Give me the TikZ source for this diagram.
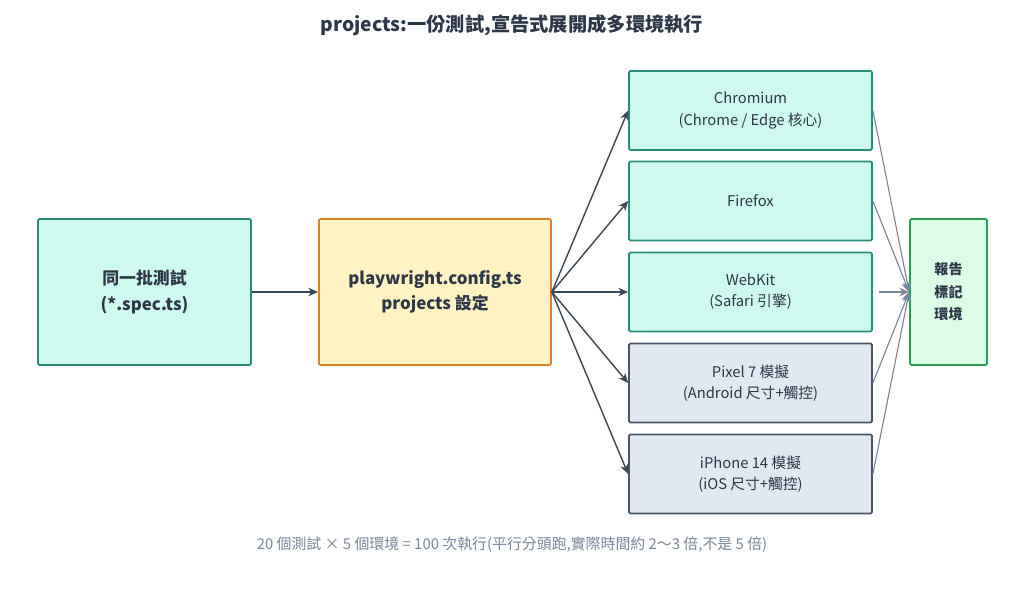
\documentclass[tikz,border=0pt]{standalone}
\usepackage{fontspec}
\setmainfont{Noto Sans CJK TC}
\usetikzlibrary{positioning, arrows.meta}
\definecolor{tealfill}{HTML}{CFF8EE}
\definecolor{tealline}{HTML}{2A8C7A}
\definecolor{orgfill}{HTML}{FFF3C4}
\definecolor{orgline}{HTML}{D9822B}
\definecolor{grayfill}{HTML}{E2E8F0}
\definecolor{grayline}{HTML}{4A5568}
\definecolor{repfill}{HTML}{DCFCE7}
\definecolor{repline}{HTML}{2F9E55}
\definecolor{txt}{HTML}{2D3748}
\definecolor{darrow}{HTML}{3B4656}
\definecolor{larrow}{HTML}{7A869A}
\tikzset{
  box/.style={draw, line width=1.2pt, rounded corners=1pt, align=center, text=txt,
    font=\fontsize{10.5}{15}\selectfont},
  env/.style={box, fill=tealfill, draw=tealline, minimum width=6.075cm, minimum height=1.975cm},
  dev/.style={box, fill=grayfill, draw=grayline, minimum width=6.075cm, minimum height=1.975cm},
  flow/.style={-{Stealth[length=7pt,width=6pt]}, line width=1pt, draw=darrow},
  merge/.style={-{Stealth[length=7pt,width=6pt]}, line width=0.8pt, draw=larrow}
}
\begin{document}
\begin{tikzpicture}[x=0.025cm, y=-0.025cm]
    \useasboundingbox (0,0) rectangle (1024,597);

    % Title
    \node[font=\bfseries\fontsize{13.7}{16}\selectfont, text=txt] (title) at (512,25) {projects:一份測試,宣告式展開成多環境執行};

    % Source and config
    \node[box, fill=tealfill, draw=tealline, minimum width=5.325cm, minimum height=3.65cm,
      font=\bfseries\fontsize{12}{18}\selectfont] (specs) at (144.5,292) {同一批測試\\(*.spec.ts)};
    \node[box, fill=orgfill, draw=orgline, minimum width=5.8cm, minimum height=3.65cm,
      font=\bfseries\fontsize{12}{18}\selectfont] (config) at (435,292) {playwright.config.ts\\projects 設定};

    % Projects
    \node[env] (chromium) at (750.5,110.5) {Chromium\\(Chrome / Edge 核心)};
    \node[env] (firefox) at (750.5,201) {Firefox};
    \node[env] (webkit) at (750.5,292) {WebKit\\(Safari 引擎)};
    \node[dev] (pixel) at (750.5,383) {Pixel 7 模擬\\(Android 尺寸+觸控)};
    \node[dev] (iphone) at (750.5,474) {iPhone 14 模擬\\(iOS 尺寸+觸控)};

    % Report
    \node[box, fill=repfill, draw=repline, minimum width=1.925cm, minimum height=3.65cm,
      font=\bfseries\fontsize{10}{16}\selectfont] (report) at (948.5,292) {報告\\標記\\環境};
    \coordinate (join) at (report.west);

    \draw[flow] (specs) -- (config);
    \foreach \p in {chromium, firefox, webkit, pixel, iphone}
        \draw[flow] (config.east) -- (\p.west);
    \foreach \p in {chromium, firefox, pixel, iphone}
        \draw[merge] (\p.east) -- (join);
    \draw[merge] ([xshift=4pt]webkit.east) -- (join);

    % Footnote
    \node[text=larrow, font=\fontsize{10.6}{13}\selectfont] (note) at (512,545)
      {20 個測試 × 5 個環境 = 100 次執行(平行分頭跑,實際時間約 2〜3 倍,不是 5 倍)};
\end{tikzpicture}
\end{document}
